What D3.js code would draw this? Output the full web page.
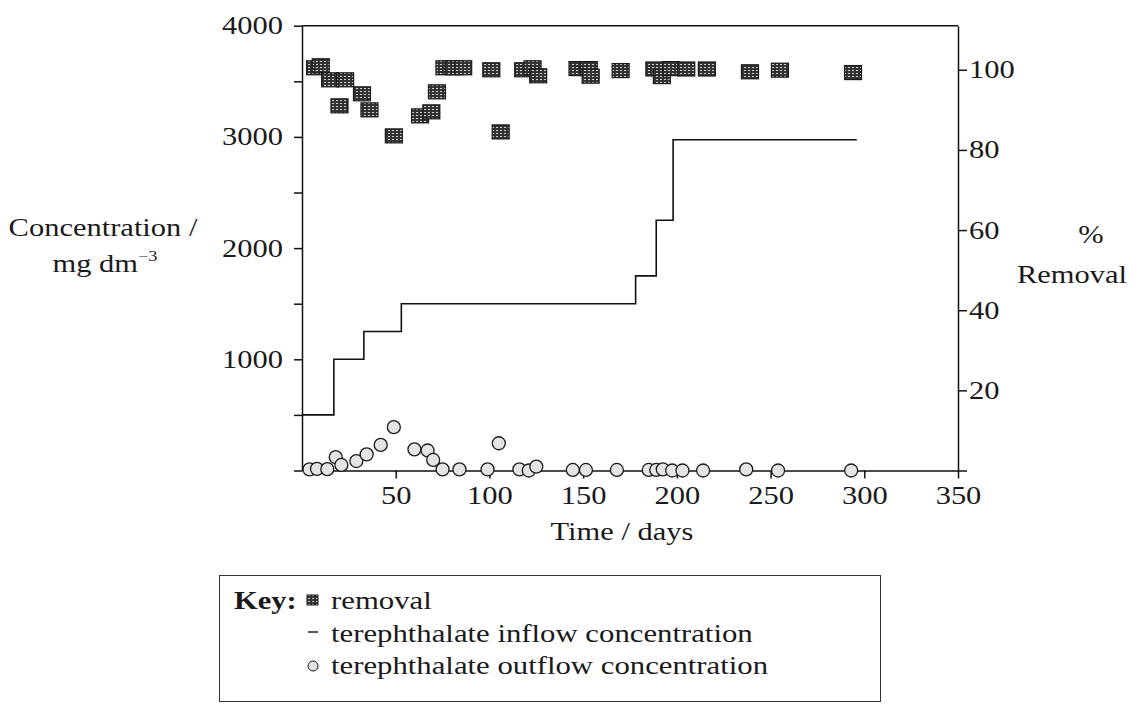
<!DOCTYPE html>
<html>
<head>
<meta charset="utf-8">
<script src="https://cdn.jsdelivr.net/npm/d3@7"></script>
<style>
  body { margin: 0; background: #fff; }
  svg text { font-family: "Liberation Serif", "Times New Roman", serif; font-size: 25px; fill: #1a1a1a; }
</style>
</head>
<body>
<svg id="chart" width="1148" height="704"></svg>
<script>
// inflow concentration (step line), mg dm-3
const inflowDays = [0, 17, 33, 53, 178, 189, 198, 296];
const inflowConc = [500, 1000, 1250, 1500, 1750, 2250, 2975, 2975];

// % removal (squares, right axis)
const removalDays = [7, 10, 15, 20, 23, 32, 36, 49, 63, 69, 72, 76, 81, 86, 101, 106, 118, 123, 126,
  147, 153, 154, 170, 188, 192, 197, 205, 216, 239, 255, 294];
const removalPct = [100.5, 101, 97.5, 91, 97.5, 94, 90, 83.5, 88.5, 89.5, 94.5, 100.5, 100.5, 100.5, 100, 84.5, 100, 100.5, 98.5,
  100.3, 100.3, 98.4, 99.8, 100.2, 98.3, 100.3, 100.2, 100.2, 99.5, 99.9, 99.3];

// outflow concentration (circles), mg dm-3
const outflowDays = [4, 8, 13.5, 18, 21, 29, 34.5, 42, 49, 60, 67, 70, 75, 84, 99, 105, 116, 121, 125,
  144.5, 151.5, 168, 185, 189, 192.5, 197.5, 203, 214, 237, 254, 293];
const outflowConc = [10, 15, 12, 120, 50, 85, 145, 230, 390, 190, 180, 95, 10, 10, 10, 245, 10, 0, 35,
  5, 5, 5, 5, 5, 10, 0, 0, 0, 10, 0, 0];

const xTicks = [50, 100, 150, 200, 250, 300, 350];
const leftTicks = d3.range(0, 4001, 500);
const rightTicks = [0, 20, 40, 60, 80, 100];
const legendLabels = ["removal", "terephthalate inflow concentration", "terephthalate outflow concentration"];

const SX = 1.22; // the scanned type is wider than Times

const svg = d3.select('#chart');

const defs = svg.append('defs');
const tex = defs.append('pattern').attr('id', 'sqTex')
  .attr('width', 4).attr('height', 3).attr('patternUnits', 'userSpaceOnUse');
tex.append('rect').attr('width', 4).attr('height', 3).attr('fill', '#333');
tex.append('rect').attr('x', 0).attr('y', 1).attr('width', 2).attr('height', 1).attr('fill', '#cfcfcf');

const xScale = d3.scaleLinear().domain([0, 350]).range([302, 958]);
const yLeft = d3.scaleLinear().domain([0, 4000]).range([470.5, 25.7]);
const yRight = d3.scaleLinear().domain([0, 111]).range([470.5, 25.7]);

function widen (sel) {
  sel.selectAll('text')
    .attr('x', function () { return +this.getAttribute('x') / SX; })
    .attr('transform', `scale(${SX},1)`);
}

const xAxis = d3.axisBottom(xScale).tickValues(xTicks).tickSize(8).tickSizeOuter(0).tickPadding(8);
const leftAxis = d3.axisLeft(yLeft).tickValues(leftTicks).tickSize(8).tickSizeOuter(0).tickPadding(11)
  .tickFormat(d => (d > 0 && d % 1000 === 0) ? d : '');
const rightAxis = d3.axisRight(yRight).tickValues(rightTicks).tickSize(9).tickSizeOuter(0).tickPadding(2)
  .tickFormat(d => d > 0 ? d : '');

[
  svg.append('g').attr('transform', `translate(0, ${yLeft(0)})`).call(xAxis),
  svg.append('g').attr('transform', `translate(${xScale(0)}, 0)`).call(leftAxis),
  svg.append('g').attr('transform', `translate(${xScale(350)}, 0)`).call(rightAxis)
].forEach(g => {
  g.attr('font-family', null).attr('font-size', null);
  g.selectAll('path, line').attr('stroke', '#111').attr('stroke-width', 1.5);
  widen(g);
});

// top frame line
svg.append('line')
  .attr('x1', xScale(0)).attr('x2', xScale(350))
  .attr('y1', yLeft(4000)).attr('y2', yLeft(4000))
  .attr('stroke', '#111').attr('stroke-width', 1.5);

// inflow step line
const inflowLine = d3.line()
  .x(d => xScale(d[0]))
  .y(d => yLeft(d[1]))
  .curve(d3.curveStepAfter);

svg.append('path')
  .attr('d', inflowLine(d3.zip(inflowDays, inflowConc)))
  .attr('fill', 'none')
  .attr('stroke', '#111')
  .attr('stroke-width', 1.6);

// outflow circles
svg.append('g').selectAll('circle')
  .data(d3.zip(outflowDays, outflowConc))
  .join('circle')
  .attr('cx', d => xScale(d[0]))
  .attr('cy', d => yLeft(d[1]))
  .attr('r', 6.5)
  .attr('fill', '#e4e4e4')
  .attr('stroke', '#1a1a1a')
  .attr('stroke-width', 1.3);

// removal squares
svg.append('g').selectAll('rect')
  .data(d3.zip(removalDays, removalPct))
  .join('rect')
  .attr('x', d => xScale(d[0]) - 8.5)
  .attr('y', d => yRight(d[1]) - 7)
  .attr('width', 17)
  .attr('height', 14)
  .attr('fill', 'url(#sqTex)')
  .attr('stroke', '#1a1a1a')
  .attr('stroke-width', 1.2);

function label (x, y, txt, anchor = 'middle', sx = SX) {
  return svg.append('text')
    .attr('transform', `translate(${x}, ${y}) scale(${sx},1)`)
    .attr('text-anchor', anchor)
    .text(txt);
}

// axis titles
label(622, 540, 'Time / days');
label(103, 236, 'Concentration /');
const unit = label(105, 272, 'mg dm');
unit.append('tspan').attr('font-size', 15).attr('dy', -11).text('−3');
label(1091, 243, '%');
label(1072, 283, 'Removal');

// legend
svg.append('rect')
  .attr('x', 219.5).attr('y', 575.5)
  .attr('width', 661).attr('height', 126)
  .attr('fill', 'none').attr('stroke', '#333').attr('stroke-width', 1);

const rowY = [609, 642, 674];
label(234, rowY[0], 'Key:', 'start').attr('font-weight', 'bold').attr('font-size', 26);

svg.append('rect')
  .attr('x', 307).attr('y', rowY[0] - 14).attr('width', 11).attr('height', 10)
  .attr('fill', 'url(#sqTex)').attr('stroke', '#1a1a1a').attr('stroke-width', 1);
svg.append('line')
  .attr('x1', 308).attr('x2', 318).attr('y1', rowY[1] - 10).attr('y2', rowY[1] - 10)
  .attr('stroke', '#111').attr('stroke-width', 1.4);
svg.append('circle')
  .attr('cx', 313).attr('cy', rowY[2] - 8).attr('r', 5)
  .attr('fill', '#e4e4e4').attr('stroke', '#1a1a1a').attr('stroke-width', 1);

legendLabels.forEach((t, i) => label(331, rowY[i], t, 'start', 1.23).attr('font-size', 26));
</script>
</body>
</html>
